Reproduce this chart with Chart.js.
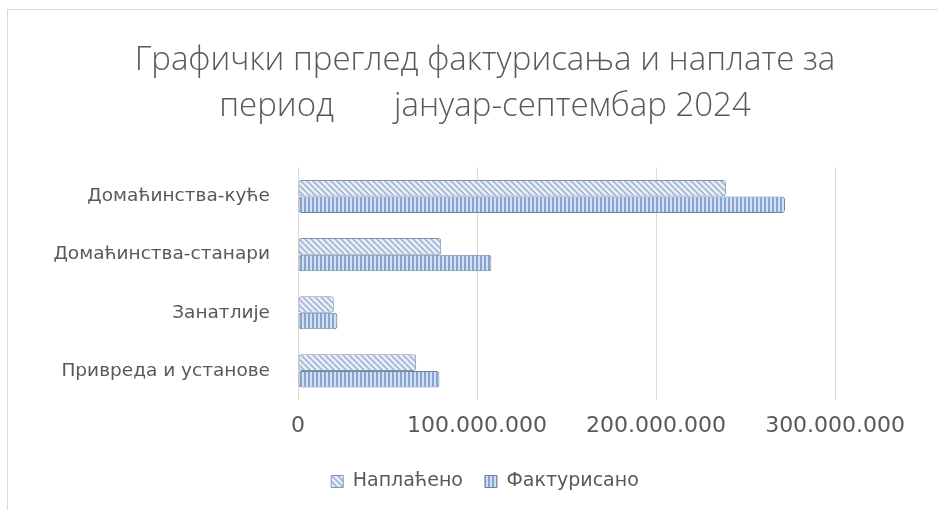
<!DOCTYPE html>
<html>
<head>
<meta charset="utf-8">
<script src="https://cdn.jsdelivr.net/npm/chart.js@4.4.1/dist/chart.umd.min.js"></script>
<style>
  html, body { margin: 0; padding: 0; background: #fff; }
  #frame {
    position: absolute; left: 7px; top: 9px; width: 931px; height: 501px;
    border-top: 1px solid #d9d9d9; border-left: 1px solid #d9d9d9; box-sizing: border-box;
  }
  #wrap { position: absolute; left: 0; top: 0; width: 938px; height: 510px; }
</style>
</head>
<body>
<div id="frame"></div>
<div id="wrap"><canvas id="chart"></canvas></div>
<script>
const categories = ['Домаћинства-куће', 'Домаћинства-станари', 'Занатлије', 'Привреда и установе'];
const naplaceno = [239000000, 80000000, 20000000, 66000000];
const fakturisano = [272000000, 108000000, 22000000, 79000000];
const xTickValues = [0, 100000000, 200000000, 300000000];

const textColor = '#595959';
const titleFont = "'Open Sans', sans-serif";
const axisFont = "'DejaVu Sans', sans-serif";

// hatch fills used by the bars and the legend boxes
const makePattern = (kind) => {
    const c = document.createElement('canvas');
    const ctx = c.getContext('2d');
    if (kind === 'diag') {
        c.width = 6; c.height = 6;
        ctx.fillStyle = '#eef3fa';
        ctx.fillRect(0, 0, 6, 6);
        ctx.strokeStyle = '#a9bcd8';
        ctx.lineWidth = 2;
        ctx.beginPath();
        ctx.moveTo(-1, -1); ctx.lineTo(7, 7);
        ctx.moveTo(-4, 2); ctx.lineTo(4, 10);
        ctx.moveTo(2, -4); ctx.lineTo(10, 4);
        ctx.stroke();
    } else {
        c.width = 4; c.height = 4;
        ctx.fillStyle = '#d3e0f3';
        ctx.fillRect(0, 0, 4, 4);
        ctx.fillStyle = '#87a3d2';
        ctx.fillRect(0, 0, 2, 4);
    }
    return ctx.createPattern(c, 'repeat');
};

const fmt = v => String(v).replace(/\B(?=(\d{3})+(?!\d))/g, '.');

const ctx = document.getElementById('chart').getContext('2d');
new Chart(ctx, {
    type: 'bar',
    data: {
        labels: categories,
        datasets: [{
            label: 'Наплаћено',
            data: naplaceno,
            backgroundColor: makePattern('diag'),
            borderColor: '#8393aa',
            borderWidth: 1,
            borderRadius: 3,
            borderSkipped: false
        }, {
            label: 'Фактурисано',
            data: fakturisano,
            backgroundColor: makePattern('vert'),
            borderColor: '#6f83a3',
            borderWidth: 1,
            borderRadius: 3,
            borderSkipped: false
        }]
    },
    options: {
        indexAxis: 'y',
        responsive: true,
        maintainAspectRatio: false,
        animation: false,
        layout: {
            padding: { left: 40, right: 8, top: 0, bottom: 9 }
        },
        datasets: {
            bar: { categoryPercentage: 0.57, barPercentage: 1.0 }
        },
        plugins: {
            title: {
                display: true,
                text: ['Графички преглед фактурисања и наплате за', 'период       јануар-септембар 2024'],
                color: textColor,
                font: { family: titleFont, size: 33, weight: '300', lineHeight: 1.4 },
                padding: { top: 37, bottom: 38 }
            },
            legend: {
                position: 'bottom',
                labels: {
                    color: textColor,
                    font: { family: axisFont, size: 19 },
                    boxWidth: 12,
                    boxHeight: 12,
                    padding: 22
                }
            },
            tooltip: { enabled: false }
        },
        scales: {
            x: {
                min: 0,
                max: 353000000,
                afterFit: scale => { scale.height = 50; },
                afterBuildTicks: scale => {
                    scale.ticks = xTickValues.map(v => ({ value: v }));
                },
                ticks: {
                    color: textColor,
                    font: { family: axisFont, size: 22 },
                    padding: 13,
                    maxRotation: 0,
                    callback: v => fmt(v)
                },
                grid: { color: '#d9d9d9', drawTicks: false },
                border: { display: false }
            },
            y: {
                afterFit: scale => { scale.width = 258; },
                ticks: {
                    color: textColor,
                    font: { family: axisFont, size: 18.5 },
                    padding: 20
                },
                grid: { display: false },
                border: { display: false }
            }
        }
    }
});
</script>
</body>
</html>
